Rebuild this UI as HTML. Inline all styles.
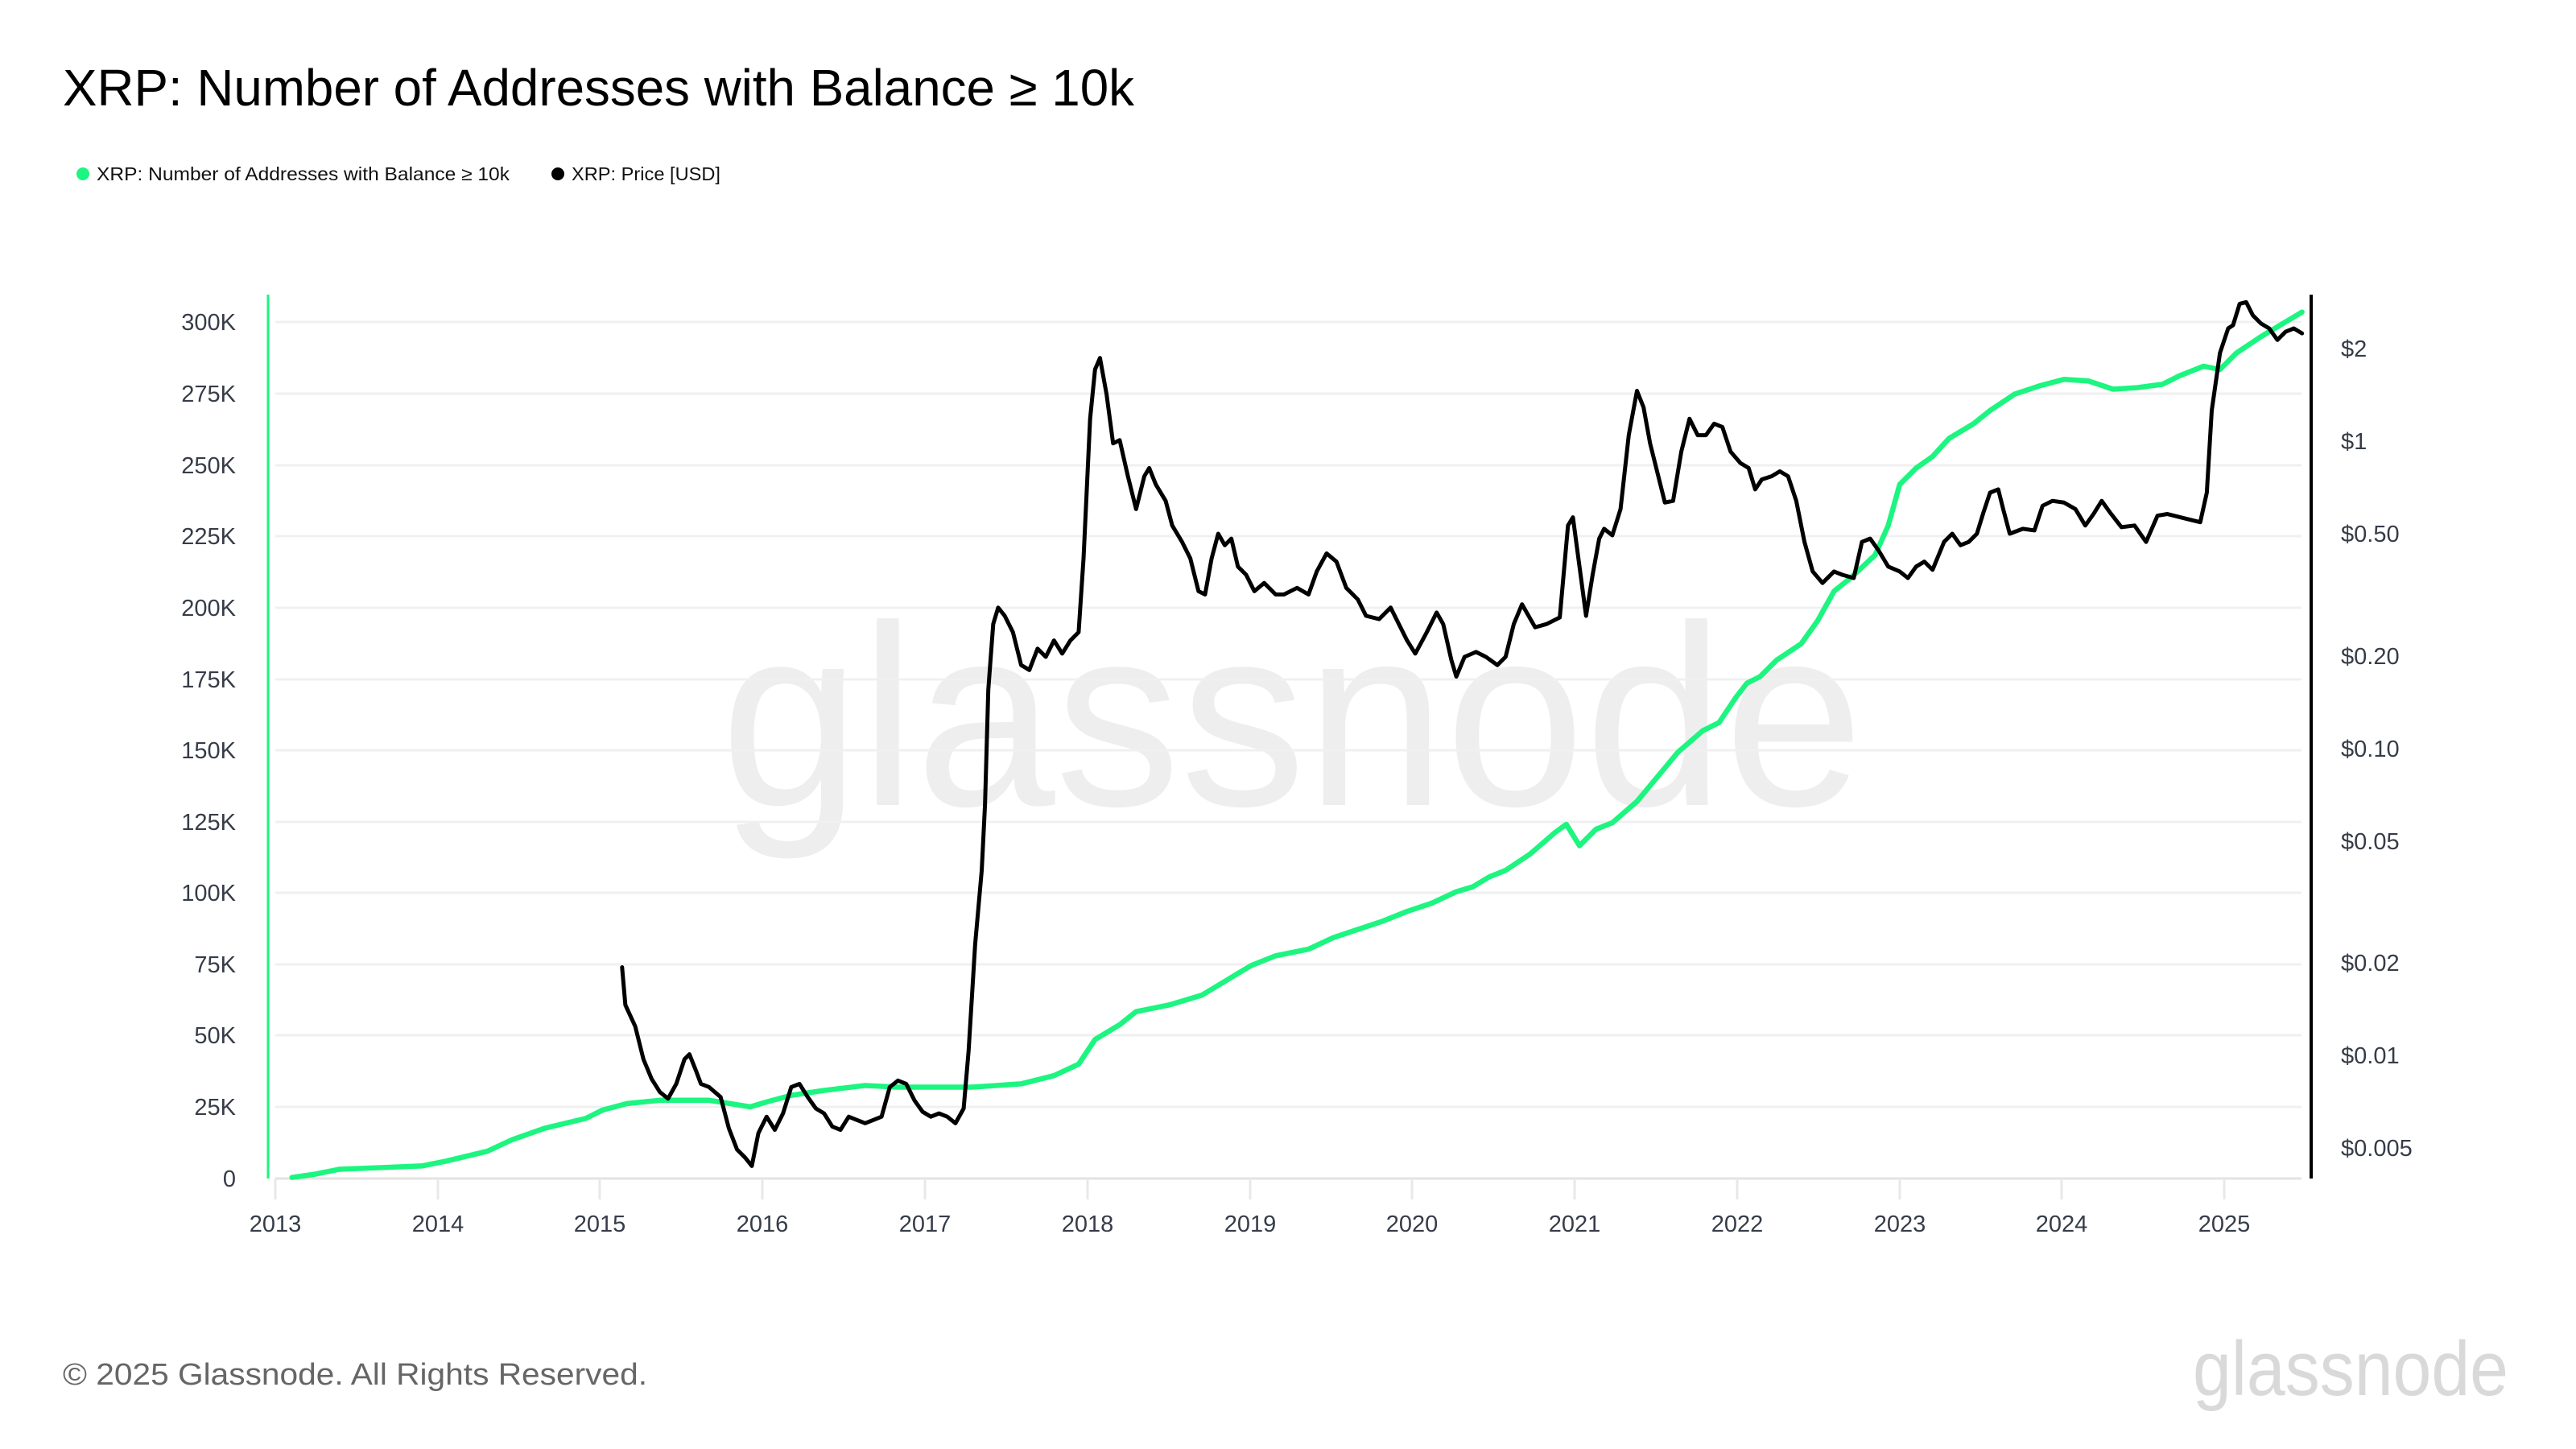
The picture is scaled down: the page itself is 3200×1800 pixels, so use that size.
<!DOCTYPE html>
<html><head><meta charset="utf-8"><style>html,body{margin:0;padding:0;background:#fff}svg{display:block}</style></head>
<body>
<svg width="3200" height="1800" viewBox="0 0 3200 1800" xmlns="http://www.w3.org/2000/svg" font-family="Liberation Sans, Arial, sans-serif">
<rect width="3200" height="1800" fill="#fff"/>
<text x="78" y="131" font-size="64" fill="#000" textLength="1331" lengthAdjust="spacingAndGlyphs">XRP: Number of Addresses with Balance ≥ 10k</text>
<circle cx="103" cy="216" r="8" fill="#1cf57f"/>
<text x="120" y="224" font-size="23" fill="#111" textLength="513" lengthAdjust="spacingAndGlyphs">XRP: Number of Addresses with Balance ≥ 10k</text>
<circle cx="693" cy="216" r="8" fill="#000"/>
<text x="710" y="224" font-size="23" fill="#111" textLength="185" lengthAdjust="spacingAndGlyphs">XRP: Price [USD]</text>
<text x="1605" y="1000" font-size="320" fill="#eeeeee" text-anchor="middle" textLength="1420" lengthAdjust="spacingAndGlyphs">glassnode</text>
<g stroke="#f0f0f0" stroke-width="3">
<line x1="342" x2="2859" y1="1375" y2="1375"/><line x1="342" x2="2859" y1="1286" y2="1286"/><line x1="342" x2="2859" y1="1198" y2="1198"/><line x1="342" x2="2859" y1="1109" y2="1109"/><line x1="342" x2="2859" y1="1021" y2="1021"/><line x1="342" x2="2859" y1="932" y2="932"/><line x1="342" x2="2859" y1="844" y2="844"/><line x1="342" x2="2859" y1="755" y2="755"/><line x1="342" x2="2859" y1="666" y2="666"/><line x1="342" x2="2859" y1="578" y2="578"/><line x1="342" x2="2859" y1="489" y2="489"/><line x1="342" x2="2859" y1="400" y2="400"/>
</g>
<line x1="342" x2="2859" y1="1464" y2="1464" stroke="#e3e3e3" stroke-width="3"/>
<g stroke="#e8e8e8" stroke-width="3">
<line x1="342" x2="342" y1="1464" y2="1490"/><line x1="544" x2="544" y1="1464" y2="1490"/><line x1="745" x2="745" y1="1464" y2="1490"/><line x1="947" x2="947" y1="1464" y2="1490"/><line x1="1149" x2="1149" y1="1464" y2="1490"/><line x1="1351" x2="1351" y1="1464" y2="1490"/><line x1="1553" x2="1553" y1="1464" y2="1490"/><line x1="1754" x2="1754" y1="1464" y2="1490"/><line x1="1956" x2="1956" y1="1464" y2="1490"/><line x1="2158" x2="2158" y1="1464" y2="1490"/><line x1="2360" x2="2360" y1="1464" y2="1490"/><line x1="2561" x2="2561" y1="1464" y2="1490"/><line x1="2763" x2="2763" y1="1464" y2="1490"/>
</g>
<g font-size="29" fill="#363c48" text-anchor="middle">
<text x="342" y="1530">2013</text><text x="544" y="1530">2014</text><text x="745" y="1530">2015</text><text x="947" y="1530">2016</text><text x="1149" y="1530">2017</text><text x="1351" y="1530">2018</text><text x="1553" y="1530">2019</text><text x="1754" y="1530">2020</text><text x="1956" y="1530">2021</text><text x="2158" y="1530">2022</text><text x="2360" y="1530">2023</text><text x="2561" y="1530">2024</text><text x="2763" y="1530">2025</text>
</g>
<g font-size="29" fill="#363c48" text-anchor="end">
<text x="293" y="1474">0</text><text x="293" y="1385">25K</text><text x="293" y="1296">50K</text><text x="293" y="1208">75K</text><text x="293" y="1119">100K</text><text x="293" y="1031">125K</text><text x="293" y="942">150K</text><text x="293" y="854">175K</text><text x="293" y="765">200K</text><text x="293" y="676">225K</text><text x="293" y="588">250K</text><text x="293" y="499">275K</text><text x="293" y="410">300K</text>
</g>
<g font-size="29" fill="#363c48">
<text x="2908" y="443">$2</text><text x="2908" y="558">$1</text><text x="2908" y="673">$0.50</text><text x="2908" y="825">$0.20</text><text x="2908" y="940">$0.10</text><text x="2908" y="1055">$0.05</text><text x="2908" y="1206">$0.02</text><text x="2908" y="1321">$0.01</text><text x="2908" y="1436">$0.005</text>
</g>
<line x1="333" x2="333" y1="366" y2="1464" stroke="#1cf57f" stroke-width="3"/>
<line x1="2871" x2="2871" y1="366" y2="1464" stroke="#000" stroke-width="4"/>
<g transform="translate(3.7,0) scale(2.04)" fill="none" stroke-linejoin="round" stroke-linecap="round">
<polyline vector-effect="non-scaling-stroke" stroke="#1cf57f" stroke-width="6.5" points="176,717 190,715 205,712 230,711 255,710 270,707 295,701 310,694 330,687 355,681 365,676 380,672 400,670 430,670 455,674 465,671 480,667 500,664 525,661 545,662 560,662 590,662 605,661 620,660 640,655 655,648 665,633 680,624 690,616 710,612 730,606 745,597 760,588 775,582 795,578 810,571 825,566 840,561 855,555 870,550 885,543 895,540 905,534 915,530 930,520 945,507 952,502 960,515 970,505 980,501 995,488 1010,470 1020,458 1035,445 1045,440 1055,425 1062,416 1070,412 1080,402 1095,392 1105,378 1115,360 1125,352 1140,338 1148,320 1155,295 1165,285 1175,278 1185,267 1200,258 1210,250 1225,240 1240,235 1255,231 1270,232 1285,237 1300,236 1315,234 1325,229 1340,223 1350,225 1360,215 1375,205 1400,190"/>
<polyline vector-effect="non-scaling-stroke" stroke="#000" stroke-width="5" points="377,589 379,612 385,625 390,645 395,657 400,665 405,669 410,660 415,645 418,642 422,652 425,660 430,662 437,668 442,687 447,700 452,705 456,710 460,690 465,680 470,688 475,678 480,662 485,660 490,668 495,675 500,678 505,686 510,688 515,680 520,682 525,684 530,682 535,680 540,662 545,658 550,660 555,670 560,677 565,680 570,678 575,680 580,684 585,675 588,640 592,575 596,530 598,490 600,420 603,380 606,370 610,375 615,385 620,405 625,408 630,395 635,400 640,390 645,398 650,390 655,385 658,340 662,255 665,225 668,218 672,240 676,270 680,268 685,290 690,310 695,290 698,285 702,295 708,305 712,320 718,330 723,340 728,360 732,362 736,340 740,325 744,332 748,328 752,345 757,350 762,360 768,355 775,362 780,362 788,358 795,362 800,348 806,337 812,342 818,358 825,365 830,375 838,377 845,370 850,380 855,390 860,398 867,385 873,373 877,380 882,402 885,412 890,400 897,397 903,400 910,405 915,400 920,380 925,368 933,382 940,380 948,376 953,320 956,315 960,345 964,375 968,350 972,328 975,322 980,326 985,310 990,265 995,238 999,248 1003,270 1008,290 1012,306 1017,305 1022,275 1027,255 1032,265 1037,265 1042,258 1047,260 1052,275 1058,282 1063,285 1067,298 1071,292 1077,290 1082,287 1087,290 1092,305 1097,330 1102,348 1108,355 1115,348 1120,350 1127,352 1132,330 1137,328 1142,335 1148,345 1155,348 1160,352 1165,345 1170,342 1175,347 1182,330 1187,325 1192,332 1197,330 1202,325 1206,312 1210,300 1215,298 1218,310 1222,325 1230,322 1237,323 1242,308 1248,305 1255,306 1262,310 1268,320 1273,313 1278,305 1283,312 1290,321 1298,320 1305,330 1312,314 1318,313 1330,316 1338,318 1342,300 1345,250 1350,215 1355,200 1358,198 1362,185 1366,184 1370,192 1375,197 1380,200 1385,207 1390,202 1395,200 1400,203"/>
</g>
<text x="78" y="1720" font-size="38" fill="#666" textLength="726" lengthAdjust="spacingAndGlyphs">© 2025 Glassnode. All Rights Reserved.</text>
<text x="2920" y="1733" font-size="96" fill="#d9d9d9" text-anchor="middle" textLength="392" lengthAdjust="spacingAndGlyphs">glassnode</text>
</svg>
</body></html>
